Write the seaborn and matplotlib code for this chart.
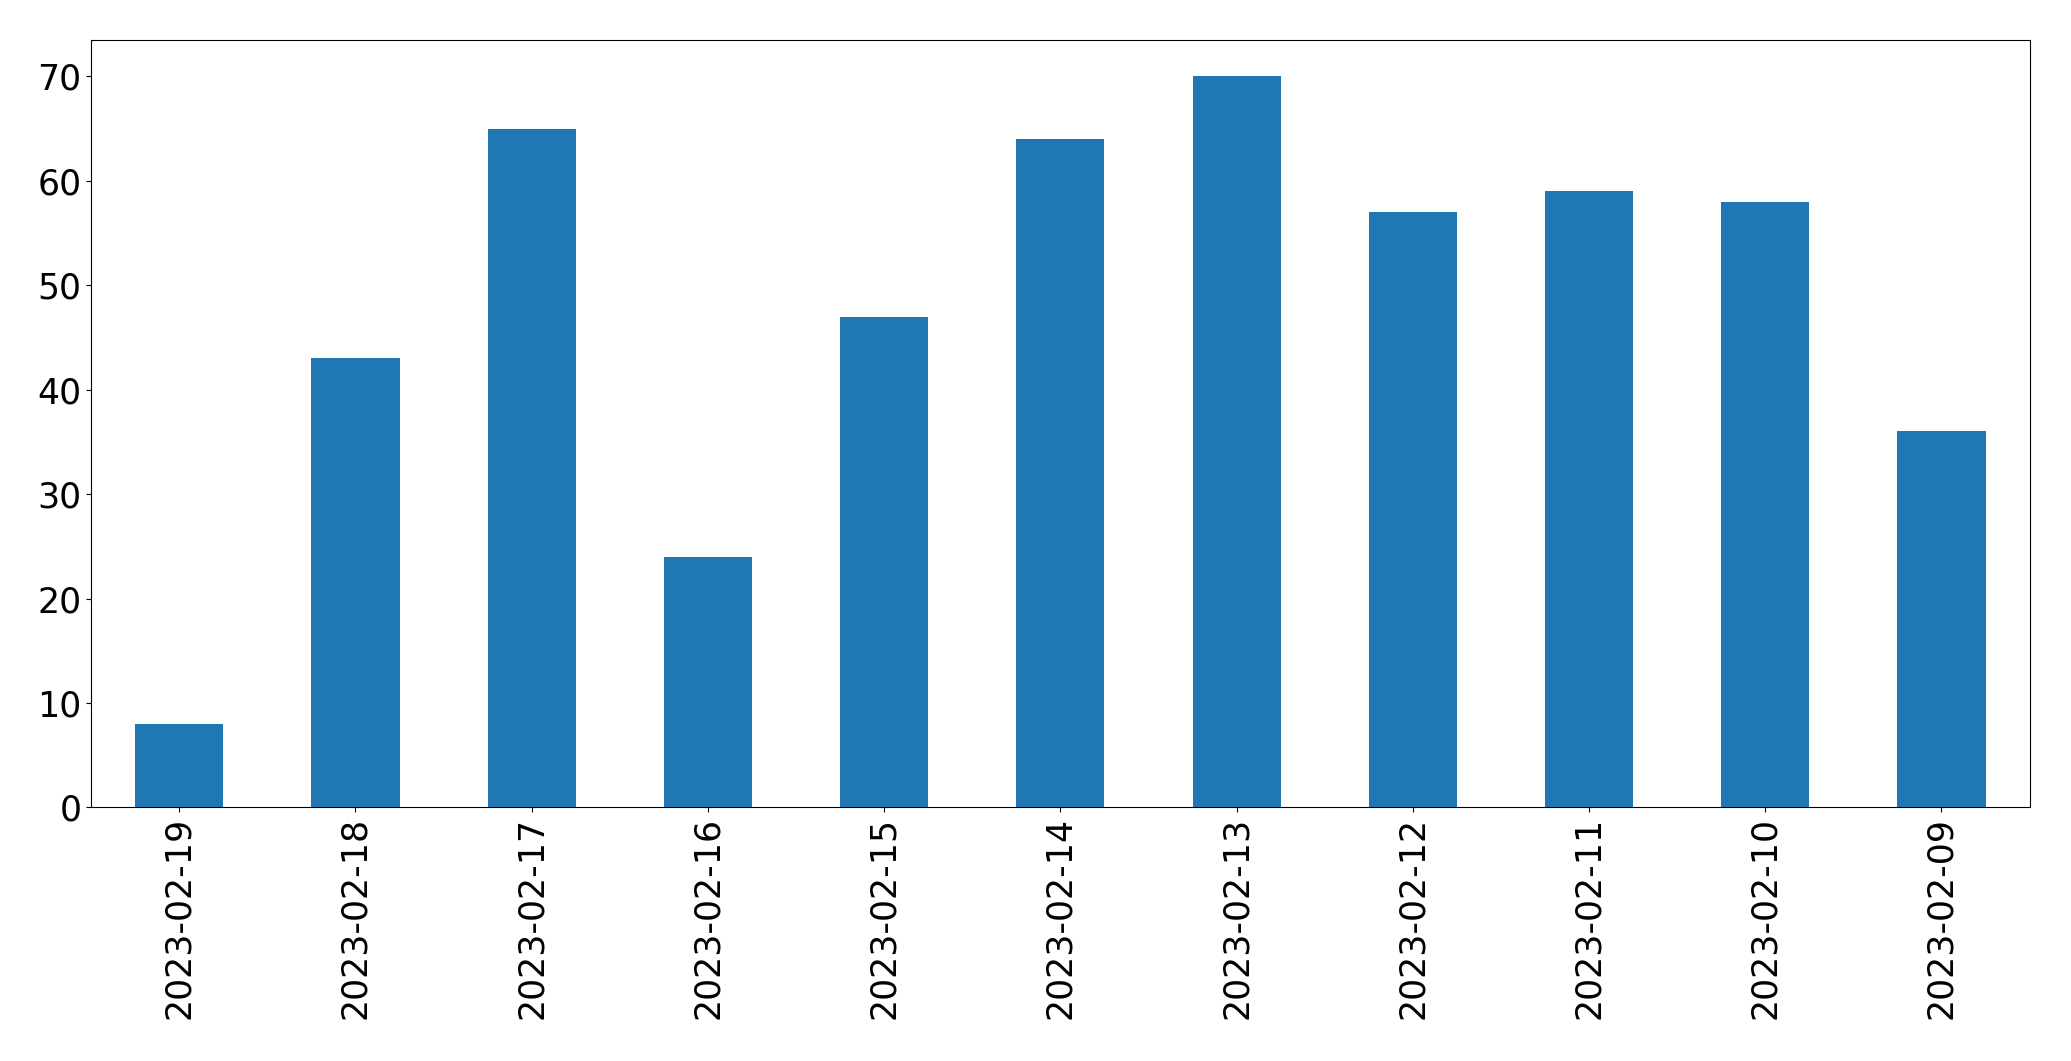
import pandas as pd
import seaborn as sns
import matplotlib.pyplot as plt

dates = ['2023-02-19', '2023-02-18', '2023-02-17', '2023-02-16', '2023-02-15', '2023-02-14',
         '2023-02-13', '2023-02-12', '2023-02-11', '2023-02-10', '2023-02-09']
counts = [8, 43, 65, 24, 47, 64, 70, 57, 59, 58, 36]

data = pd.DataFrame({'date': dates, 'count': counts})

fig = plt.figure(figsize=(20.71, 10.61), dpi=100)
ax = fig.add_axes([0.044, 0.239, 0.936, 0.7235])

sns.barplot(x='date', y='count', data=data, color='#1f77b4', saturation=1, width=0.5, ax=ax)

ax.set_xlim(-0.5, len(dates) - 0.5)
ax.set_ylim(0, 73.5)
ax.set_xlabel('')
ax.set_ylabel('')
ax.tick_params(axis='both', labelsize=25)
plt.setp(ax.get_xticklabels(), rotation=90)

fig.savefig('out.png', dpi=100)
